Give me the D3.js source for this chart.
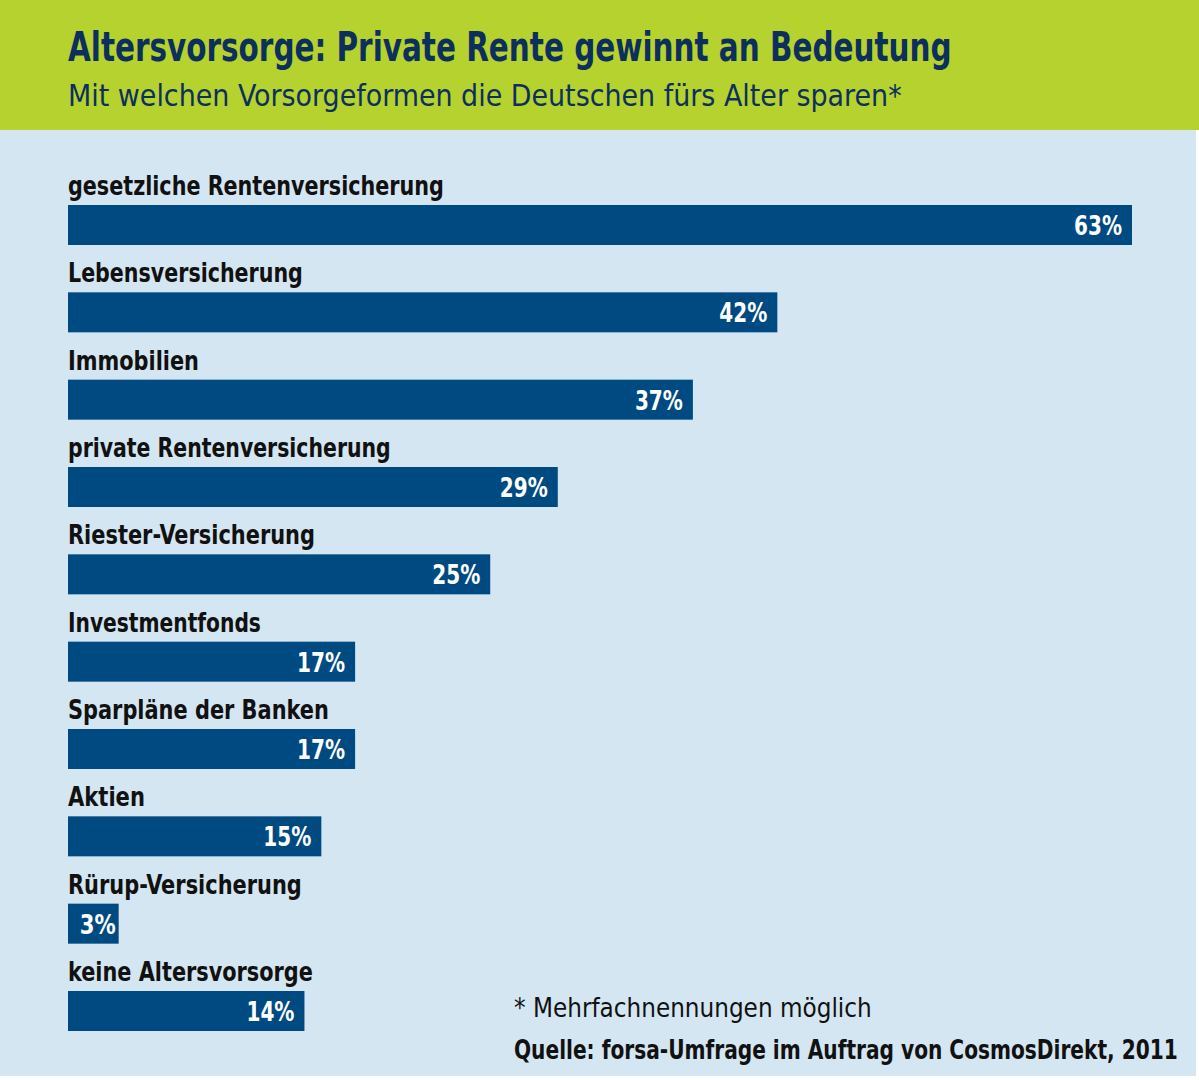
<!DOCTYPE html>
<html>
<head>
<meta charset="utf-8">
<script src="https://cdn.jsdelivr.net/npm/d3@7"></script>
<style>
  body { margin: 0; background: #fff; }
  svg { display: block; }
  text { font-family: "Liberation Sans Narrow", "DejaVu Sans Condensed", "Roboto", sans-serif; }
</style>
</head>
<body>
<div id="viz"></div>
<script>
const categories = [
  'gesetzliche Rentenversicherung',
  'Lebensversicherung',
  'Immobilien',
  'private Rentenversicherung',
  'Riester-Versicherung',
  'Investmentfonds',
  'Sparpläne der Banken',
  'Aktien',
  'Rürup-Versicherung',
  'keine Altersvorsorge'
];
const values = [63, 42, 37, 29, 25, 17, 17, 15, 3, 14];

const title = 'Altersvorsorge: Private Rente gewinnt an Bedeutung';
const subtitle = 'Mit welchen Vorsorgeformen die Deutschen fürs Alter sparen*';
const footnote = '* Mehrfachnennungen möglich';
const source = 'Quelle: forsa-Umfrage im Auftrag von CosmosDirekt, 2011';

const width = 1199, height = 1080;
const data = categories.map((c, i) => ({ label: c, value: values[i] }));

const svg = d3.select('#viz').append('svg')
  .attr('width', width)
  .attr('height', height)
  .attr('role', 'img')
  .attr('aria-label', title);

// backgrounds
svg.append('rect').attr('width', width).attr('height', height).attr('fill', '#ffffff');
svg.append('rect').attr('x', 0).attr('y', 130).attr('width', 1196).attr('height', 946).attr('fill', '#d3e6f2');
svg.append('rect').attr('x', 0).attr('y', 0).attr('width', width).attr('height', 130).attr('fill', '#b5d22f');

// condensed look: scale a text horizontally to the width measured in the original
function fit(sel, w) {
  const n = sel.node();
  const px = +sel.attr('x'), py = +sel.attr('y');
  const len = n.getComputedTextLength();
  const sx = len > 0 ? w / len : 1;
  sel.attr('x', 0).attr('y', 0)
    .attr('transform', `translate(${px},${py}) scale(${sx},1)`);
}

svg.append('text').attr('x', 68).attr('y', 61)
  .attr('font-size', 40).attr('font-weight', 'bold').attr('fill', '#0d2f5e').text(title)
  .call(s => fit(s, 884));
svg.append('text').attr('x', 68).attr('y', 106)
  .attr('font-size', 30).attr('fill', '#0d2f5e').text(subtitle)
  .call(s => fit(s, 834));

const x = d3.scaleLinear().domain([0, 63]).range([68, 1132]);
const y = d3.scalePoint().domain(categories).range([205, 991]);
const barH = 40;

const labelWidths = [376, 235, 131, 323, 247, 193, 261, 77, 234, 245];

const g = svg.selectAll('g.row').data(data).join('g').attr('class', 'row');

g.append('rect')
  .attr('x', x(0))
  .attr('y', d => y(d.label))
  .attr('width', d => x(d.value) - x(0))
  .attr('height', barH)
  .attr('fill', '#004a82');

g.append('text')
  .attr('x', x(0))
  .attr('y', d => y(d.label) - 10)
  .attr('font-size', 27).attr('font-weight', 'bold').attr('fill', '#111')
  .text(d => d.label)
  .each(function(d, i) { fit(d3.select(this), labelWidths[i]); });

g.append('text')
  .attr('x', d => x(d.value) - (d.value < 10 ? 3 : 10))
  .attr('y', d => y(d.label) + 30)
  .attr('text-anchor', 'end')
  .attr('font-size', 27).attr('font-weight', 'bold').attr('fill', '#ffffff')
  .text(d => d.value + '%')
  .each(function(d) { fit(d3.select(this), d.value < 10 ? 36 : 48); });

svg.append('text').attr('x', 514).attr('y', 1017)
  .attr('font-size', 27).attr('fill', '#111').text(footnote)
  .call(s => fit(s, 358));
svg.append('text').attr('x', 514).attr('y', 1059)
  .attr('font-size', 27).attr('font-weight', 'bold').attr('fill', '#111').text(source)
  .call(s => fit(s, 664));
</script>
</body>
</html>
